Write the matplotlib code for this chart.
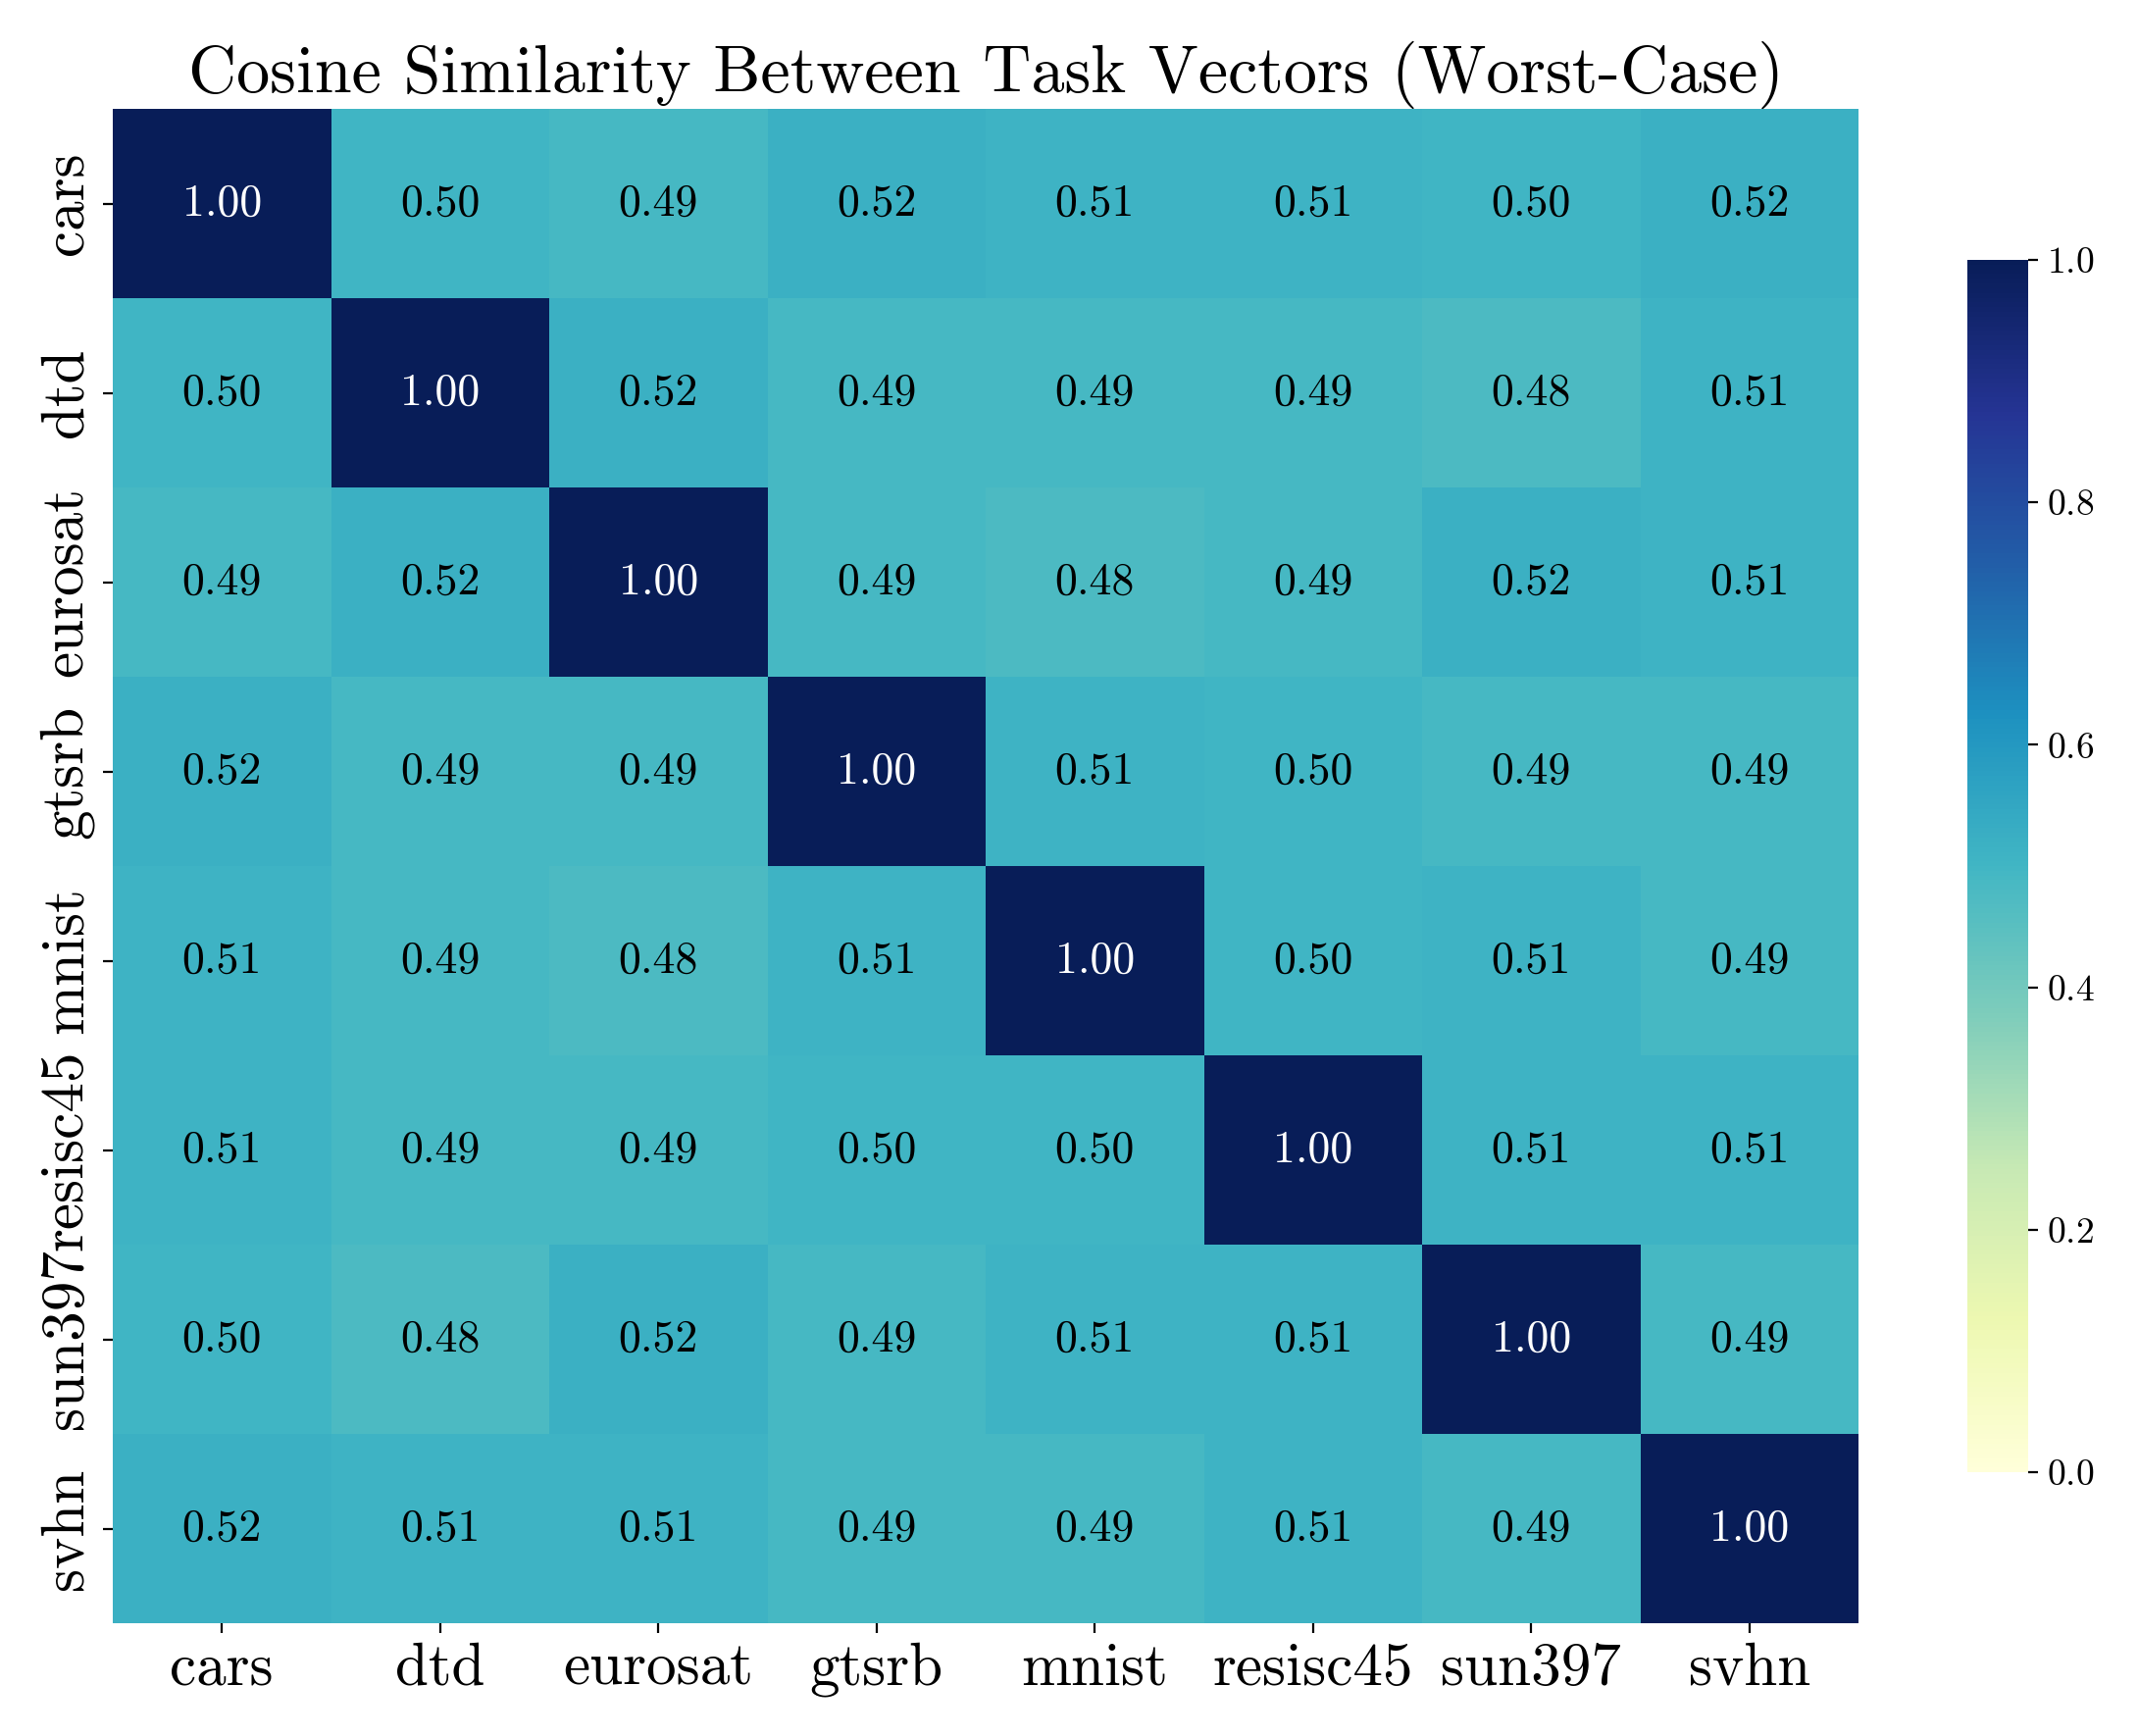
import numpy as np
import matplotlib
matplotlib.use("Agg")
import matplotlib.pyplot as plt
import seaborn as sns

plt.rcParams['font.family'] = 'serif'
plt.rcParams['font.serif'] = ['cmr10']
plt.rcParams['mathtext.fontset'] = 'cm'
plt.rcParams['axes.formatter.use_mathtext'] = True

tasks = ['cars', 'dtd', 'eurosat', 'gtsrb', 'mnist', 'resisc45', 'sun397', 'svhn']

sim_cars = [1.00, 0.50, 0.49, 0.52, 0.51, 0.51, 0.50, 0.52]
sim_dtd = [0.50, 1.00, 0.52, 0.49, 0.49, 0.49, 0.48, 0.51]
sim_eurosat = [0.49, 0.52, 1.00, 0.49, 0.48, 0.49, 0.52, 0.51]
sim_gtsrb = [0.52, 0.49, 0.49, 1.00, 0.51, 0.50, 0.49, 0.49]
sim_mnist = [0.51, 0.49, 0.48, 0.51, 1.00, 0.50, 0.51, 0.49]
sim_resisc45 = [0.51, 0.49, 0.49, 0.50, 0.50, 1.00, 0.51, 0.51]
sim_sun397 = [0.50, 0.48, 0.52, 0.49, 0.51, 0.51, 1.00, 0.49]
sim_svhn = [0.52, 0.51, 0.51, 0.49, 0.49, 0.51, 0.49, 1.00]

matrix = np.array([sim_cars, sim_dtd, sim_eurosat, sim_gtsrb,
                   sim_mnist, sim_resisc45, sim_sun397, sim_svhn])

W, H = 2180, 1770
fig = plt.figure(figsize=(W / 200, H / 200), dpi=200)
# heatmap and colorbar placed where they sit in the reference
ax = fig.add_axes([115 / W, 1 - 1655 / H, (1895 - 115) / W, (1655 - 111) / H])
cax = fig.add_axes([2006 / W, 1 - 1501 / H, (2068 - 2006) / W, (1501 - 265) / H])

sns.heatmap(matrix, ax=ax, cbar_ax=cax, cmap='YlGnBu', vmin=0, vmax=1,
            annot=True, fmt='.2f', annot_kws={'fontsize': 16.5},
            xticklabels=tasks, yticklabels=tasks)

# dark text on the light cells, white on the diagonal
for txt, val in zip(ax.texts, matrix.flatten()):
    txt.set_color('white' if val > 0.7 else 'black')

ax.set_title('Cosine Similarity Between Task Vectors (Worst-Case)', fontsize=24.5)
ax.tick_params(axis='both', labelsize=22)
plt.setp(ax.get_yticklabels(), rotation=90, va='center')
plt.setp(ax.get_xticklabels(), rotation=0)
cax.tick_params(labelsize=13.5)

fig.savefig('out.png', dpi=200)
